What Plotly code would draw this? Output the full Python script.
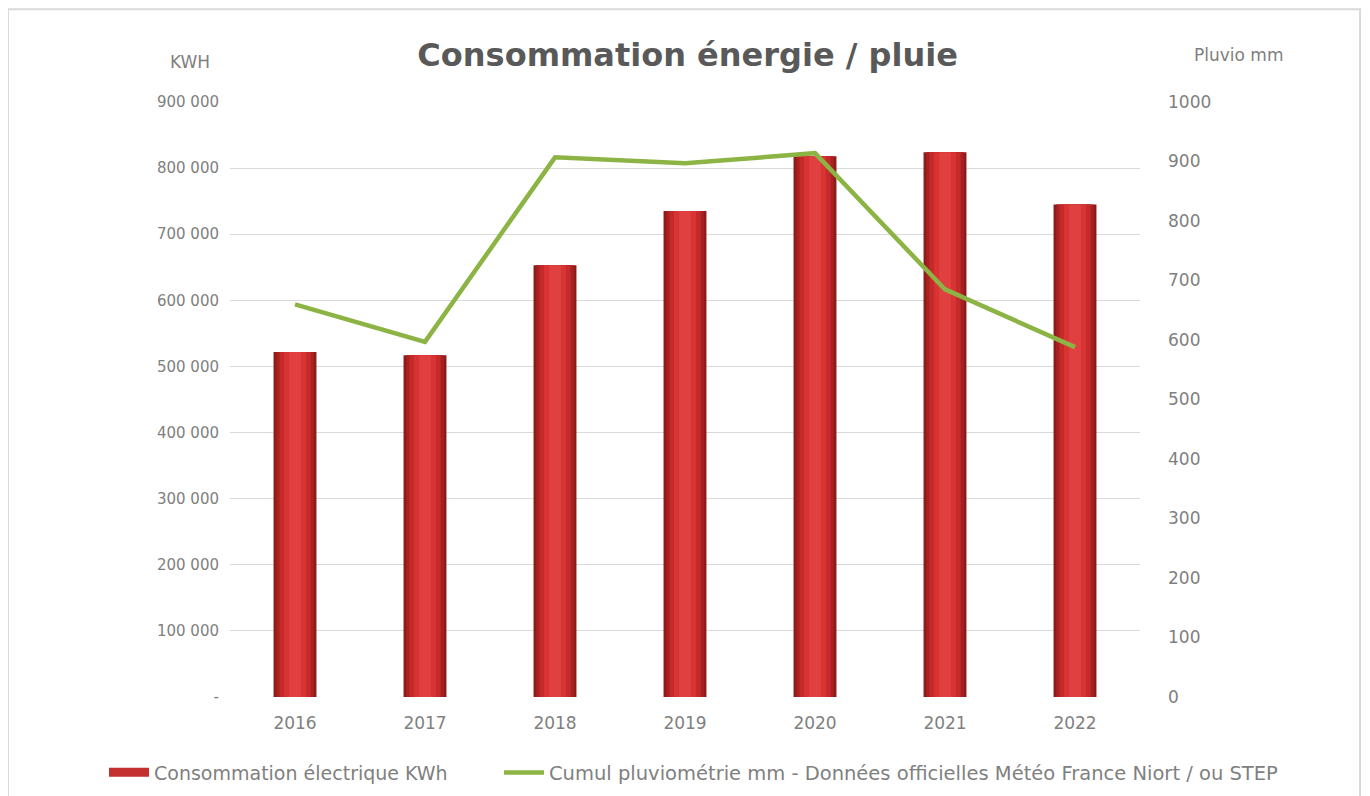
import plotly.graph_objects as go

years = ["2016", "2017", "2018", "2019", "2020", "2021", "2022"]
kwh = [522000, 517000, 653000, 735000, 818000, 824000, 745000]
pluvio = [660, 597, 907, 897, 914, 685, 588]

left_tickvals = [0, 100000, 200000, 300000, 400000, 500000, 600000, 700000, 800000, 900000]
left_ticktext = ["-", "100 000", "200 000", "300 000", "400 000", "500 000",
                 "600 000", "700 000", "800 000", "900 000"]
right_tickvals = [0, 100, 200, 300, 400, 500, 600, 700, 800, 900, 1000]

bar_name = "Consommation électrique KWh"
line_name = "Cumul pluviométrie mm - Données officielles Météo France Niort / ou STEP"

FONT = "DejaVu Sans, Open Sans, sans-serif"
fig = go.Figure()

# Legend proxy for the bar series (wide red rectangle like the reference)
fig.add_trace(go.Scatter(
    x=[None], y=[None], mode="lines", name=bar_name,
    line=dict(color="#c43030", width=9), showlegend=True, yaxis="y", legend="legend",
))

# Simulated cylinder gradient: overlaid bars of decreasing width
layers = [(0.33, "#8e1a1a"), (0.29, "#a82020"), (0.24, "#c42a2a"), (0.17, "#d83434"), (0.09, "#e04040")]
for i, (w, c) in enumerate(layers):
    fig.add_trace(go.Bar(
        x=years, y=kwh, width=w, marker=dict(color=c, line=dict(width=0)),
        name=bar_name, showlegend=False, yaxis="y",
    ))

fig.add_trace(go.Scatter(
    x=years, y=pluvio, mode="lines", name=line_name, yaxis="y2", legend="legend2",
    line=dict(color="#8cb444", width=4.5),
))

legend_common = dict(orientation="h", xref="container", yref="container",
                     y=0.054, xanchor="left", yanchor="top",
                     itemwidth=40, bgcolor="rgba(0,0,0,0)")

fig.update_layout(
    width=1362, height=788,
    paper_bgcolor="white", plot_bgcolor="white",
    barmode="overlay",
    margin=dict(l=222, r=230, t=94, b=99),
    font=dict(family=FONT, color="#808080", size=14),
    title=dict(text="<b>Consommation énergie / pluie</b>", x=0.499, xanchor="center",
               y=0.94, yanchor="middle",
               font=dict(size=32, color="#595959", family=FONT)),
    xaxis=dict(showgrid=False, showline=False, ticks="", tickfont=dict(size=17, color="#808080"),
               ticklabelstandoff=14),
    yaxis=dict(range=[0, 900000], tickvals=left_tickvals, ticktext=left_ticktext,
               showgrid=True, gridcolor="#d9d9d9", gridwidth=1, zeroline=False,
               showline=False, ticks="", tickfont=dict(size=15, color="#808080"),
               ticklabelstandoff=10),
    yaxis2=dict(range=[0, 1000], tickvals=right_tickvals, overlaying="y", side="right",
                showgrid=False, zeroline=False, showline=False, ticks="",
                tickfont=dict(size=17, color="#808080"), ticklabelstandoff=27),
    legend=dict(**legend_common, x=0.0705,
                font=dict(size=19, color="#808080", family=FONT)),
    legend2=dict(**legend_common, x=0.3605,
                 font=dict(size=19.5, color="#808080", family=FONT)),
    showlegend=True,
    shapes=[dict(type="rect", xref="paper", yref="paper", x0=-0.244, x1=1.2418, y0=-0.3, y1=1.156,
                 line=dict(color="#d9d9d9", width=2), layer="below")],
    annotations=[
        dict(text="KWH", xref="paper", yref="paper", x=-0.044, y=1.067, showarrow=False,
             xanchor="center", yanchor="middle", font=dict(size=17, color="#808080")),
        dict(text="Pluvio mm", xref="paper", yref="paper", x=1.108, y=1.079, showarrow=False,
             xanchor="center", yanchor="middle", font=dict(size=17, color="#808080")),
    ],
)

fig.write_html("out.html")
